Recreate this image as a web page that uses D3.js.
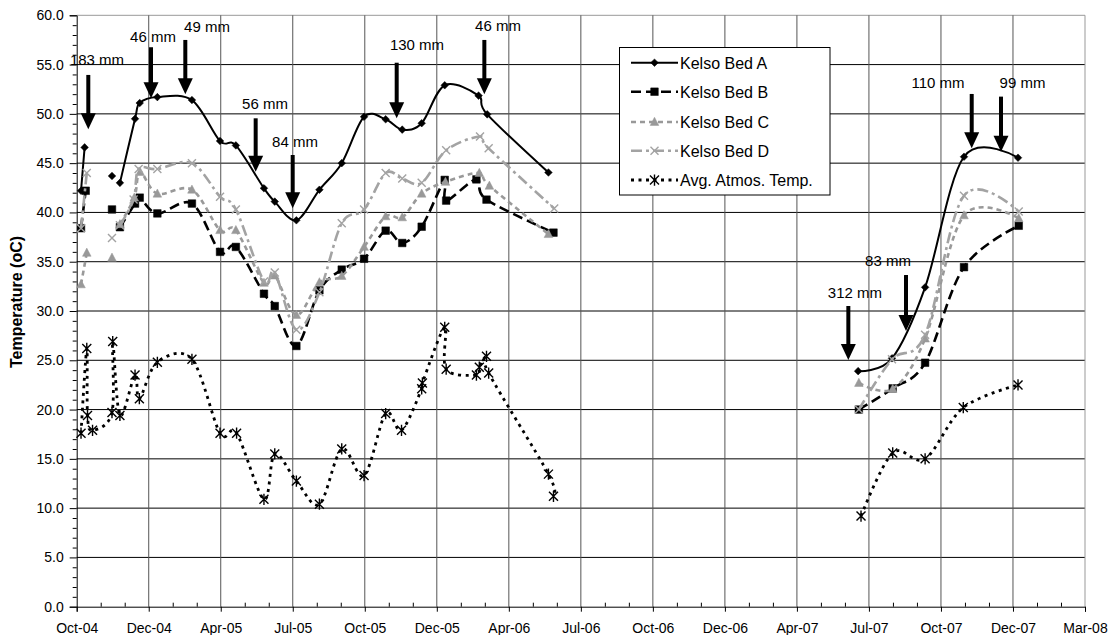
<!DOCTYPE html>
<html><head><meta charset="utf-8">
<script src="https://cdn.jsdelivr.net/npm/d3@7"></script>
<style>body{margin:0;background:#fff}svg{display:block;font-family:"Liberation Sans",Arial,sans-serif}</style>
</head><body><svg id="c" width="1113" height="635"></svg>
<script>
// x values are positions along the date axis, in major-tick units (0 = Oct-04, 14 = Mar-08)
const xTickLabels = ["Oct-04","Dec-04","Apr-05","Jul-05","Oct-05","Dec-05","Apr-06","Jul-06","Oct-06","Dec-06","Apr-07","Jul-07","Oct-07","Dec-07","Mar-08"];
const yTickValues = [0,5,10,15,20,25,30,35,40,45,50,55,60];

const bedA = [[0.06,42.2],[0.11,46.6],null,[0.49,43.7],null,[0.60,43.0],[0.81,49.5],[0.875,51.1],[1.12,51.7],[1.60,51.4],[1.99,47.25],[2.21,46.8],[2.60,42.45],[2.75,41.1],[3.05,39.2],[3.37,42.3],[3.68,45.0],[3.99,49.7],[4.29,49.45],[4.52,48.4],[4.79,49.05],[5.11,52.9],[5.58,51.85],[5.70,49.95],[6.55,44.05],null,[10.85,23.9],[11.32,25.2],[11.78,32.4],[12.32,45.65],[13.07,45.55]];
const bedB = [[0.06,38.4],[0.125,42.2],null,[0.49,40.3],null,[0.60,38.5],[0.81,40.9],[0.875,41.5],[1.12,39.9],[1.60,40.9],[1.99,36.0],[2.21,36.5],[2.60,31.75],[2.75,30.5],[3.05,26.45],[3.37,32.1],[3.68,34.2],[3.99,35.3],[4.29,38.15],[4.52,36.9],[4.79,38.55],[5.11,43.3],[5.13,41.2],[5.55,43.35],[5.69,41.3],[6.62,37.95],null,[10.86,20.0],[11.33,22.15],[11.78,24.75],[12.32,34.45],[13.08,38.65]];
const bedC = [[0.06,32.7],[0.14,35.9],null,[0.49,35.4],null,[0.60,38.8],[0.80,41.5],[0.88,44.1],[1.12,41.9],[1.60,42.3],[1.99,38.2],[2.21,38.2],[2.60,32.85],[2.75,33.6],[3.05,29.6],[3.37,32.9],[3.68,33.55],[3.99,36.5],[4.29,39.6],[4.52,39.5],[4.79,41.9],[5.12,43.1],[5.59,44.0],[5.73,42.7],[6.55,37.8],null,[10.86,22.7],[11.33,22.1],[11.78,27.2],[12.32,39.7],[13.08,39.4]];
const bedD = [[0.06,38.4],[0.14,44.0],null,[0.49,37.4],null,[0.60,38.7],[0.79,41.3],[0.86,44.4],[1.12,44.4],[1.60,45.0],[1.99,41.6],[2.21,40.3],[2.60,33.0],[2.75,33.9],[3.05,28.1],[3.37,31.9],[3.68,38.9],[3.99,40.3],[4.29,44.0],[4.52,43.45],[4.79,43.0],[5.13,46.3],[5.60,47.7],[5.72,46.5],[6.63,40.4],null,[10.86,20.0],[11.32,25.1],[11.78,27.6],[12.32,41.7],[13.08,40.1]];
const atmos = [[0.06,17.6],[0.14,26.2],[0.15,19.4],[0.22,17.9],[0.49,19.7],[0.50,26.9],[0.60,19.4],[0.81,23.5],[0.87,21.1],[1.12,24.8],[1.60,25.1],[1.99,17.6],[2.22,17.6],[2.60,10.9],[2.75,15.5],[3.05,12.75],[3.37,10.4],[3.68,16.0],[3.99,13.3],[4.29,19.6],[4.51,17.9],[4.79,22.1],[4.80,22.7],[5.11,28.35],[5.13,24.1],[5.55,23.5],[5.59,24.3],[5.69,25.4],[5.72,23.7],[6.55,13.45],[6.62,11.2],null,[10.89,9.2],[11.33,15.6],[11.78,15.0],[12.31,20.2],[13.07,22.5]];

const seriesNames = ["Kelso Bed A","Kelso Bed B","Kelso Bed C","Kelso Bed D","Avg. Atmos. Temp."];

// rainfall annotations: label, arrow x, arrow top, arrow tip, text x, text baseline (data units)
const annLabels = ["183 mm","46 mm","49 mm","56 mm","84 mm","130 mm","46 mm","110 mm","99 mm","312 mm","83 mm"];
const annX    = [0.161,1.032,1.508,2.485,2.999,4.443,5.660,12.427,12.834,10.714,11.515];
const annTop  = [53.95,56.76,57.5,49.55,45.83,55.19,57.5,52.02,51.75,30.51,33.65];
const annTip  = [48.44,51.58,51.99,44.14,40.42,49.55,51.99,46.51,46.16,25.03,27.97];
const annTx   = [0.282,1.059,1.809,2.615,3.031,4.725,5.850,11.959,13.132,10.806,11.265];
const annTy   = [55.0,57.34,58.3,50.45,46.64,56.43,58.41,52.58,52.58,31.27,34.57];

const svg = d3.select("#c");
const L = 76.7, R = 1085, T = 15.3, B = 606.7;
const x = d3.scaleLinear().domain([0,14]).range([L,R]);
const y = d3.scaleLinear().domain([0,60]).range([B,T]);

// gridlines
svg.append("g").selectAll("line").data(yTickValues.slice(1)).join("line")
  .attr("x1",L).attr("x2",R).attr("y1",d=>y(d)).attr("y2",d=>y(d))
  .attr("stroke",d=>d===60?"#999":"#000").attr("stroke-width",1);
svg.append("g").selectAll("line").data(d3.range(1,15)).join("line")
  .attr("x1",d=>x(d)).attr("x2",d=>x(d)).attr("y1",T).attr("y2",B)
  .attr("stroke",d=>d===14?"#999":"#555").attr("stroke-width",1);

// axes
const yMinor = d3.range(0,61,1).filter(v=>v%5!==0);
svg.append("g").attr("transform",`translate(${L},0)`)
  .call(d3.axisLeft(y).tickValues(yMinor).tickSize(4).tickFormat(""))
  .call(g=>g.select(".domain").remove());
svg.append("g").attr("transform",`translate(${L},0)`)
  .call(d3.axisLeft(y).tickValues(yTickValues).tickSize(7).tickPadding(6).tickFormat(d3.format(".1f")))
  .call(g=>g.selectAll("text").attr("font-size",14).attr("fill","#000").attr("font-family","Liberation Sans, Arial"));
const xMinor = d3.range(0,14).flatMap(i=>[i+1/3,i+2/3]);
svg.append("g").attr("transform",`translate(0,${B})`)
  .call(d3.axisTop(x).tickValues(xMinor).tickSize(4).tickFormat(""))
  .call(g=>g.select(".domain").remove());
svg.append("g").attr("transform",`translate(0,${B})`)
  .call(d3.axisBottom(x).tickValues(d3.range(15)).tickSize(5).tickPadding(11).tickFormat(i=>xTickLabels[i]))
  .call(g=>g.selectAll("text").attr("font-size",14).attr("fill","#000").attr("font-family","Liberation Sans, Arial"));

svg.append("text").attr("transform",`translate(22,302) rotate(-90)`).attr("text-anchor","middle")
  .attr("font-size",16).attr("font-weight","bold").text("Temperature (oC)");

// marker shapes
function mk(type,s){
  switch(type){
    case "diamond": return `M0,${-s}L${s},0L0,${s}L${-s},0Z`;
    case "square": return `M${-s},${-s}H${s}V${s}H${-s}Z`;
    case "triangle": return `M0,${-s*1.1}L${s},${s*0.8}L${-s},${s*0.8}Z`;
    case "x": return `M${-s},${-s}L${s},${s}M${-s},${s}L${s},${-s}`;
    case "star": return `M${-s},${-s}L${s},${s}M${-s},${s}L${s},${-s}M0,${-s*1.25}V${s*1.25}`;
  }
}
const styles = [
  {data:bedA,color:"#000",w:2,dash:null,marker:"diamond",ms:3.8,fill:true},
  {data:bedB,color:"#000",w:2.6,dash:"10,5",marker:"square",ms:3.8,fill:true},
  {data:bedC,color:"#999",w:2.6,dash:"5,4",marker:"triangle",ms:4.3,fill:true},
  {data:bedD,color:"#a3a3a3",w:2.6,dash:"11,4,3,4",marker:"x",ms:4,fill:false},
  {data:atmos,color:"#000",w:2.8,dash:"3,4.5",marker:"star",ms:4.5,fill:false}
];
const lineGen = d3.line().defined(d=>d!==null).x(d=>x(d[0])).y(d=>y(d[1])).curve(d3.curveCardinal.tension(0));

styles.forEach(s=>{
  svg.append("path").attr("d",lineGen(s.data)).attr("fill","none").attr("stroke",s.color)
    .attr("stroke-width",s.w).attr("stroke-dasharray",s.dash).attr("stroke-linecap","butt");
  svg.append("g").selectAll("path").data(s.data.filter(d=>d!==null)).join("path")
    .attr("transform",d=>`translate(${x(d[0])},${y(d[1])})`)
    .attr("d",mk(s.marker,s.ms))
    .attr("fill",s.fill?s.color:"none").attr("stroke",s.color).attr("stroke-width",s.fill?0.5:1.4);
});

// annotations
const ann = svg.append("g");
annLabels.forEach((lab,i)=>{
  const ax = x(annX[i]), top = y(annTop[i]), tip = y(annTip[i]);
  ann.append("line").attr("x1",ax).attr("x2",ax).attr("y1",top).attr("y2",tip-14)
    .attr("stroke","#000").attr("stroke-width",4);
  ann.append("path").attr("d",`M${ax-7.5},${tip-16}L${ax+7.5},${tip-16}L${ax},${tip}Z`).attr("fill","#000");
  ann.append("text").attr("x",x(annTx[i])).attr("y",y(annTy[i])).attr("text-anchor","middle")
    .attr("font-size",15).attr("fill","#000").text(lab);
});

// legend
const lg = svg.append("g");
lg.append("rect").attr("x",619.5).attr("y",47.5).attr("width",210.5).attr("height",147.5)
  .attr("fill","#fff").attr("stroke","#000").attr("stroke-width",1);
const legY = [62.7,91.7,122,150.7,180];
styles.forEach((s,i)=>{
  lg.append("line").attr("x1",631).attr("x2",678).attr("y1",legY[i]).attr("y2",legY[i])
    .attr("stroke",s.color).attr("stroke-width",s.w).attr("stroke-dasharray",s.dash);
  lg.append("path").attr("transform",`translate(654.5,${legY[i]})`).attr("d",mk(s.marker,s.ms))
    .attr("fill",s.fill?s.color:"none").attr("stroke",s.color).attr("stroke-width",s.fill?0.5:1.4);
  lg.append("text").attr("x",680).attr("y",legY[i]+5.8).attr("font-size",16).text(seriesNames[i]);
});
</script></body></html>
